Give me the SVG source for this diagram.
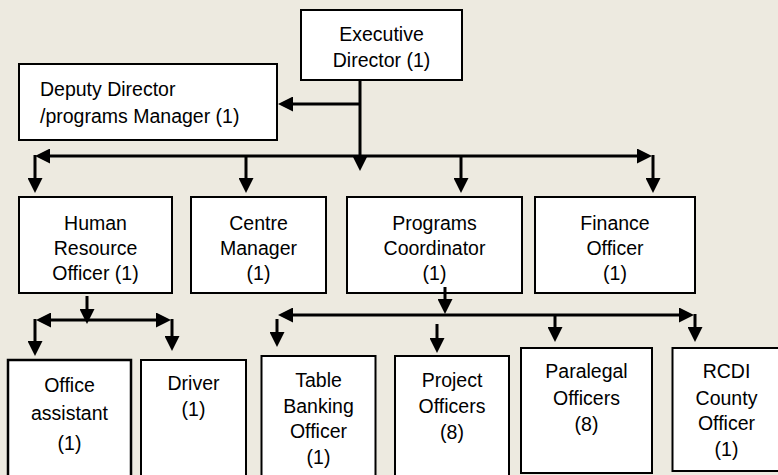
<svg xmlns="http://www.w3.org/2000/svg" width="778" height="475" viewBox="0 0 778 475">
<style>
.bg{fill:#EDEAE0}
.box{fill:#fff;stroke:#000;stroke-width:2}
.t{font-family:"Liberation Sans",Arial,sans-serif;font-size:19.5px;fill:#000;text-anchor:middle}
.tl{text-anchor:start}
.c{stroke:#000;stroke-width:3;fill:none}
</style>
<defs>
<marker id="ah" markerUnits="userSpaceOnUse" markerWidth="16" markerHeight="15" refX="0" refY="7.5" orient="auto">
<path d="M0,0 L15,7.5 L0,15 z" fill="#000"/>
</marker>
</defs>
<rect class="bg" x="0" y="0" width="778" height="475"/>

<g id="executive-director">
<rect class="box" x="301" y="10" width="161" height="70"/>
<text class="t" x="381.5" y="41">Executive</text>
<text class="t" x="381.5" y="67">Director (1)</text>
</g>
<g id="deputy-director">
<rect class="box" x="19" y="64" width="258" height="76"/>
<text class="t tl" x="40" y="96">Deputy Director</text>
<text class="t tl" x="40" y="123">/programs Manager (1)</text>
</g>
<g id="hr-officer">
<rect class="box" x="19" y="197" width="153" height="96"/>
<text class="t" x="95.5" y="230">Human</text>
<text class="t" x="95.5" y="255">Resource</text>
<text class="t" x="95.5" y="280">Officer (1)</text>
</g>
<g id="centre-manager">
<rect class="box" x="191" y="197" width="135" height="96"/>
<text class="t" x="258.5" y="230">Centre</text>
<text class="t" x="258.5" y="255">Manager</text>
<text class="t" x="258.5" y="280">(1)</text>
</g>
<g id="programs-coordinator">
<rect class="box" x="347" y="197" width="175" height="96"/>
<text class="t" x="434.5" y="230">Programs</text>
<text class="t" x="434.5" y="255">Coordinator</text>
<text class="t" x="434.5" y="280">(1)</text>
</g>
<g id="finance-officer">
<rect class="box" x="535" y="197" width="160" height="96"/>
<text class="t" x="615" y="230">Finance</text>
<text class="t" x="615" y="255">Officer</text>
<text class="t" x="615" y="280">(1)</text>
</g>
<g id="office-assistant">
<rect class="box" x="8" y="360" width="123" height="130" style="stroke-width:2.5"/>
<text class="t" x="69.5" y="392">Office</text>
<text class="t" x="69.5" y="420">assistant</text>
<text class="t" x="69.5" y="450">(1)</text>
</g>
<g id="driver">
<rect class="box" x="141" y="360" width="105" height="130"/>
<text class="t" x="193.5" y="390">Driver</text>
<text class="t" x="193.5" y="416">(1)</text>
</g>
<g id="table-banking-officer">
<rect class="box" x="261.5" y="356" width="114" height="130"/>
<text class="t" x="318.5" y="387">Table</text>
<text class="t" x="318.5" y="413">Banking</text>
<text class="t" x="318.5" y="438">Officer</text>
<text class="t" x="318.5" y="464">(1)</text>
</g>
<g id="project-officers">
<rect class="box" x="395" y="356" width="114" height="130"/>
<text class="t" x="452" y="387">Project</text>
<text class="t" x="452" y="413">Officers</text>
<text class="t" x="452" y="439">(8)</text>
</g>
<g id="paralegal-officers">
<rect class="box" x="521" y="348" width="131" height="125"/>
<text class="t" x="586.5" y="378">Paralegal</text>
<text class="t" x="586.5" y="405">Officers</text>
<text class="t" x="586.5" y="431">(8)</text>
</g>
<g id="rcdi-county-officer">
<rect class="box" x="672.5" y="348" width="110" height="123"/>
<text class="t" x="726.5" y="378">RCDI</text>
<text class="t" x="726.5" y="405">County</text>
<text class="t" x="726.5" y="430">Officer</text>
<text class="t" x="726.5" y="456">(1)</text>
</g>

<g id="connectors" class="c">
<line x1="360" y1="80" x2="360" y2="156" marker-end="url(#ah)"/>
<line x1="360" y1="104" x2="293" y2="104" marker-end="url(#ah)"/>
<line x1="360" y1="156" x2="50" y2="156" marker-end="url(#ah)"/>
<line x1="360" y1="156" x2="637" y2="156" marker-end="url(#ah)"/>
<line x1="35" y1="155" x2="35" y2="178" marker-end="url(#ah)"/>
<line x1="246" y1="156" x2="246" y2="178" marker-end="url(#ah)"/>
<line x1="461" y1="156" x2="461" y2="178" marker-end="url(#ah)"/>
<line x1="653" y1="155" x2="653" y2="178" marker-end="url(#ah)"/>
<line x1="87" y1="296" x2="87" y2="309" marker-end="url(#ah)"/>
<line x1="87" y1="320" x2="51" y2="320" marker-end="url(#ah)"/>
<line x1="87" y1="320" x2="156" y2="320" marker-end="url(#ah)"/>
<line x1="35" y1="319" x2="35" y2="341" marker-end="url(#ah)"/>
<line x1="172" y1="319" x2="172" y2="336" marker-end="url(#ah)"/>
<line x1="445" y1="287" x2="445" y2="299" marker-end="url(#ah)"/>
<line x1="445" y1="315" x2="293" y2="315" marker-end="url(#ah)"/>
<line x1="445" y1="315" x2="679" y2="315" marker-end="url(#ah)"/>
<line x1="277" y1="319" x2="277" y2="332" marker-end="url(#ah)"/>
<line x1="437" y1="324" x2="437" y2="338" marker-end="url(#ah)"/>
<line x1="555" y1="315" x2="555" y2="327" marker-end="url(#ah)"/>
<line x1="695" y1="314" x2="695" y2="327" marker-end="url(#ah)"/>
</g>
</svg>
